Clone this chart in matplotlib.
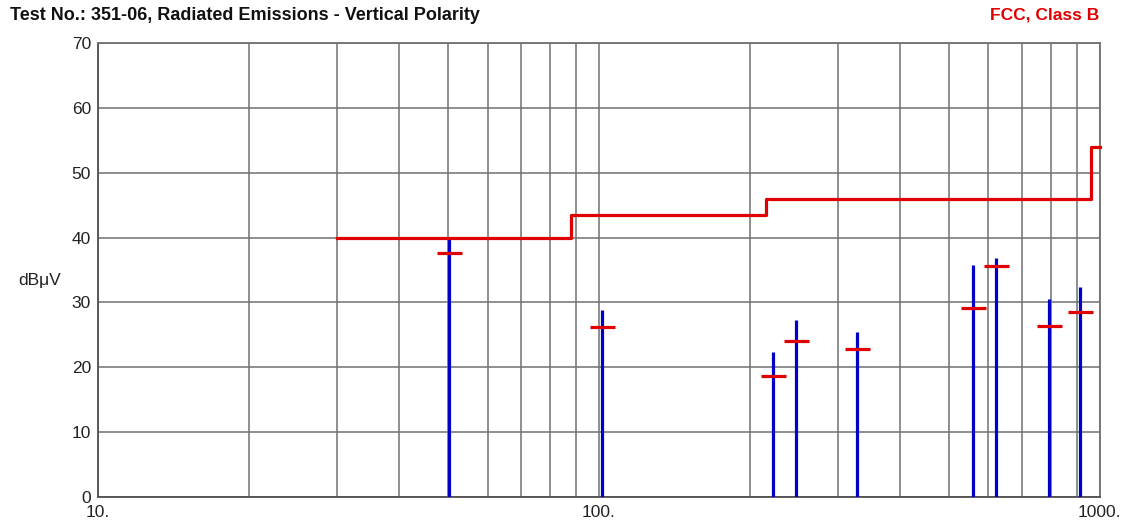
import matplotlib.pyplot as plt
import numpy as np
from matplotlib.ticker import FixedLocator, NullFormatter

# limit line (FCC class B), MHz / dBuV
limit_f = [30, 88, 88, 216, 216, 960, 960, 1000]
limit_v = [40, 40, 43.5, 43.5, 46, 46, 54, 54]

# measured emissions
peak_f = [50.2, 101.4, 222.4, 247.3, 327.3, 557.8, 622.6, 791, 916]
peak_v = [40.0, 28.9, 22.4, 27.3, 25.4, 35.7, 36.9, 30.6, 32.4]
qp_v = [37.6, 26.2, 18.7, 24.1, 22.9, 29.2, 35.6, 26.4, 28.5]

x_major = [10, 100, 1000]
x_labels = ['10.', '100.', '1000.']
y_ticks = [0, 10, 20, 30, 40, 50, 60, 70]

red = '#e00000'
blue = '#0000c8'
grid = '#707070'

plt.rcParams['font.family'] = ['Liberation Sans', 'DejaVu Sans']

fig = plt.figure(figsize=(11.22, 5.25), dpi=100)
ax = fig.add_axes([0.0873, 0.0533, 0.8927, 0.8647])

ax.set_xscale('log')
ax.set_xlim(10, 1000)
ax.set_ylim(0, 70)

minor = [m * d for d in (10, 100) for m in range(2, 10)]
ax.xaxis.set_major_locator(FixedLocator(x_major))
ax.xaxis.set_minor_locator(FixedLocator(minor))
ax.xaxis.set_minor_formatter(NullFormatter())
ax.set_xticklabels(x_labels)
ax.set_yticks(y_ticks)

ax.grid(True, which='both', axis='x', color=grid, linewidth=1.1)
ax.grid(True, which='major', axis='y', color=grid, linewidth=1.1)
ax.tick_params(which='both', length=0, labelsize=12.5, labelcolor='#222222')
ax.tick_params(axis='x', pad=6)
ax.tick_params(axis='y', pad=5)
for s in ax.spines.values():
    s.set_color(grid)
    s.set_linewidth(1.3)
ax.spines['bottom'].set_color('#505050')
ax.spines['left'].set_color('#505050')
ax.set_axisbelow(True)

ax.vlines(peak_f, 0, peak_v, color=blue, linewidth=2.3, zorder=3)
ax.plot(peak_f, qp_v, linestyle='none', marker='_', markersize=18,
        markeredgewidth=2.3, color=red, zorder=4)
ax.plot(limit_f, limit_v, color=red, linewidth=2.3, zorder=4, clip_on=False)

fig.text(10 / 1122, 1 - 15 / 525, 'Test No.: 351-06, Radiated Emissions - Vertical Polarity',
         fontsize=13, fontweight='bold', color='#111111', ha='left', va='center')
fig.text(1099 / 1122, 1 - 15 / 525, 'FCC, Class B', fontsize=12.5, fontweight='bold',
         color=red, ha='right', va='center')
fig.text(40 / 1122, 1 - 280 / 525, 'dBμV', fontsize=12.5, color='#222222',
         ha='center', va='center')

plt.savefig('out.png', dpi=100)
